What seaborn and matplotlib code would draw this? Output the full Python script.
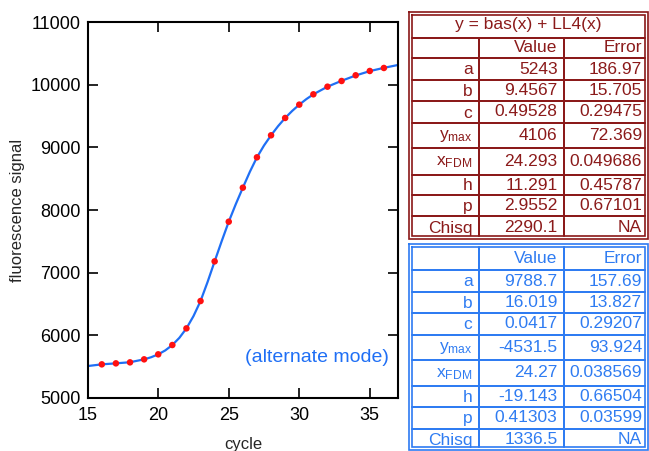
import matplotlib
matplotlib.use("Agg")
import matplotlib.pyplot as plt
import seaborn as sns
import pandas as pd

# ---- data ----
cycles = [16, 17, 18, 19, 20, 21, 22, 23, 24, 25, 26, 27, 28, 29, 30, 31, 32, 33, 34, 35, 36]
signal = [5533, 5549, 5565, 5613, 5693, 5842, 6108, 6545, 7179, 7813, 8357, 8842, 9194,
          9471, 9684, 9849, 9971, 10062, 10153, 10222, 10270]

fit_x = [15, 16, 17, 18, 19, 19.5, 20, 20.5, 21, 21.5, 22, 22.5, 23, 23.5, 24, 24.5, 25, 25.5,
         26, 26.5, 27, 27.5, 28, 28.5, 29, 29.5, 30, 30.5, 31, 32, 33, 34, 35, 36, 37]
fit_y = [5506, 5533, 5549, 5567, 5613, 5647, 5693, 5756, 5842, 5957, 6108, 6304, 6545, 6850,
         7179, 7502, 7813, 8094, 8357, 8612, 8842, 9031, 9194, 9341, 9471, 9584, 9684, 9772,
         9849, 9971, 10065, 10150, 10220, 10272, 10318]

x_ticks = [15, 20, 25, 30, 35]
y_ticks = [5000, 6000, 7000, 8000, 9000, 10000, 11000]

param_names = ["a", "b", "c", r"$\mathregular{y_{max}}$", r"$\mathregular{x_{FDM}}$", "h", "p", "Chisq"]
red_title = "y = bas(x) + LL4(x)"
red_values = ["5243", "9.4567", "0.49528", "4106", "24.293", "11.291", "2.9552", "2290.1"]
red_errors = ["186.97", "15.705", "0.29475", "72.369", "0.049686", "0.45787", "0.67101", "NA"]
blue_values = ["9788.7", "16.019", "0.0417", "-4531.5", "24.27", "-19.143", "0.41303", "1336.5"]
blue_errors = ["157.69", "13.827", "0.29207", "93.924", "0.038569", "0.66504", "0.03599", "NA"]

# ---- style ----
sns.set_theme(style="ticks")
plt.rcParams["font.family"] = ["Liberation Sans", "DejaVu Sans"]
plt.rcParams["mathtext.fontset"] = "custom"
plt.rcParams["mathtext.rm"] = "Liberation Sans"
plt.rcParams["mathtext.it"] = "Liberation Sans:italic"

CURVE = "#1f6ff5"
RED_T = "#8b1a1a"
BLUE_T = "#2f7cf2"

fig = plt.figure(figsize=(6.49, 4.51), dpi=100)
ax = fig.add_axes([87.7 / 649, 1 - 397.7 / 451, (398 - 87.7) / 649, (397.7 - 22.3) / 451])

curve_df = pd.DataFrame({"cycle": fit_x, "signal": fit_y})
pts_df = pd.DataFrame({"cycle": cycles, "signal": signal})
sns.lineplot(data=curve_df, x="cycle", y="signal", ax=ax, color=CURVE, lw=1.6, sort=False)
sns.scatterplot(data=pts_df, x="cycle", y="signal", ax=ax, color="#ff1010", s=22,
                edgecolor="none", zorder=3)

ax.set_xlim(15, 37)
ax.set_ylim(5000, 11000)
ax.set_xticks(x_ticks)
ax.set_yticks(y_ticks)
ax.tick_params(direction="in", top=True, right=True, length=7, width=1.2,
               labelsize=13, colors="black")
ax.tick_params(axis="x", pad=7)
ax.tick_params(axis="y", pad=5)
for s in ax.spines.values():
    s.set_linewidth(1.5)
    s.set_color("black")
ax.set_xlabel("cycle", fontsize=12, labelpad=9)
ax.set_ylabel("fluorescence signal", fontsize=12, labelpad=4)
ax.text(0.97, 0.106, "(alternate mode)", transform=ax.transAxes, ha="right", va="center",
        fontsize=14, color=CURVE)

# ---- tables (overlay in pixel coords) ----
ov = fig.add_axes([0, 0, 1, 1], zorder=5)
ov.set_xlim(0, 649)
ov.set_ylim(451, 0)
ov.axis("off")
ov.patch.set_alpha(0)

PX = 0.72  # points per pixel
FS = 12.5


def frame(x0, y0, x1, y1, color):
    ov.plot([x0, x1, x1, x0, x0], [y0, y0, y1, y1, y0], color=color, lw=1.2 * PX * 1.4,
            solid_joinstyle="miter")
    ov.plot([x0 + 3, x1 - 3, x1 - 3, x0 + 3, x0 + 3], [y0 + 3, y0 + 3, y1 - 3, y1 - 3, y0 + 3],
            color=color, lw=1.2 * PX * 1.4, solid_joinstyle="miter")


def table(color, col_x, row_bounds, values, errors, title=None, title_y=None, x_left=409, x_right=648,
          top=None, bottom=None):
    frame(x_left, top, x_right, bottom, color)
    xi0, xi1 = x_left + 3, x_right - 3
    for yb in row_bounds[1:-1]:
        ov.plot([xi0, xi1], [yb, yb], color=color, lw=2 * PX)
    if title is not None:
        ov.plot([xi0, xi1], [row_bounds[0], row_bounds[0]], color=color, lw=2 * PX)
        ov.text((x_left + x_right) / 2, title_y, title, ha="center", va="center",
                fontsize=FS, color=color)
    for cx in col_x:
        ov.plot([cx, cx], [row_bounds[0], row_bounds[-1] - 3], color=color, lw=2 * PX)
    yc = (row_bounds[0] + row_bounds[1]) / 2
    ov.text(col_x[1] - 6, yc, "Value", ha="right", va="center", fontsize=FS, color=color)
    ov.text(xi1 - 3, yc, "Error", ha="right", va="center", fontsize=FS, color=color)
    for i, name in enumerate(param_names):
        yc = (row_bounds[i + 1] + row_bounds[i + 2]) / 2
        ov.text(col_x[0] - 6, yc + 1, name, ha="right", va="center", fontsize=FS, color=color)
        ov.text(col_x[1] - 6, yc, values[i], ha="right", va="center", fontsize=FS, color=color)
        ov.text(xi1 - 3, yc, errors[i], ha="right", va="center", fontsize=FS, color=color)


red_rows = [37.5, 58, 80, 101, 123, 148, 175, 195, 216, 238.5]
table(RED_T, [478.5, 563.5], red_rows, red_values, red_errors, title=red_title, title_y=25,
      top=11.5, bottom=238.5)

blue_rows = [247, 270, 292, 313, 334.5, 360, 385.5, 407, 428.5, 450]
table(BLUE_T, [478.5, 563.5], blue_rows, blue_values, blue_errors, top=244, bottom=450)

fig.savefig("out.png", dpi=100)
